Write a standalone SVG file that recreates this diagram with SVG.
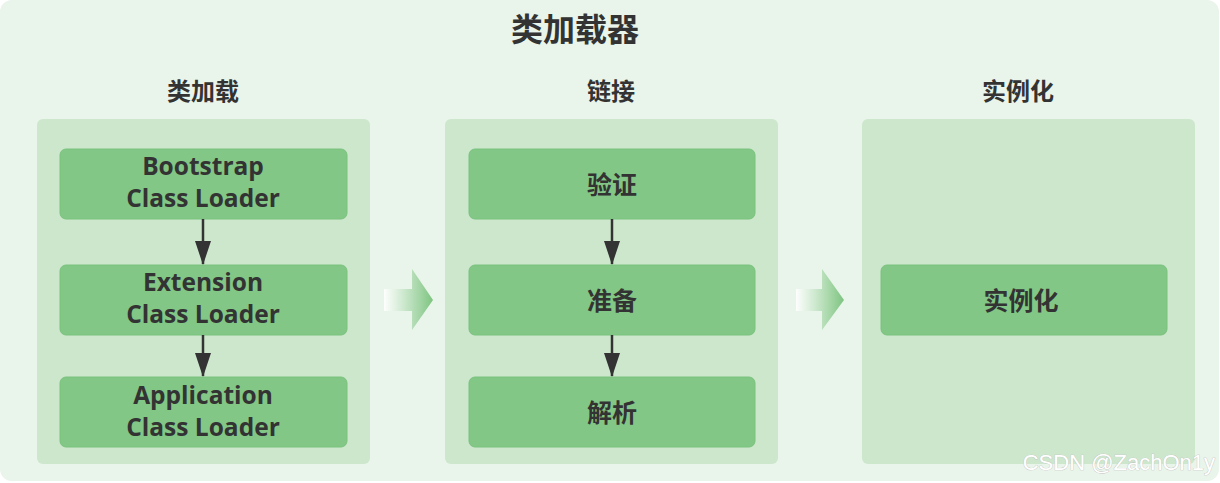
<svg xmlns="http://www.w3.org/2000/svg" width="1220" height="483" viewBox="0 0 1220 483">
<defs>
<style>
.bg{fill:#e9f4ea}
.panel{fill:#cde7cd}
.node{fill:#82c785;stroke:#7bc27e;stroke-width:1}
.t{font-family:"Open Sans","Noto Sans CJK SC",sans-serif;font-weight:bold;fill:#333;text-anchor:middle}
.en{font-size:24.5px}
.cn{font-size:25px;dominant-baseline:central}
.hd{font-size:24px;dominant-baseline:central}
.edge{stroke:#333;stroke-width:2.5;fill:none}
.wm{font-family:"Liberation Sans",Arial,sans-serif;font-size:22px;fill:#fff;stroke:#c0c0c0;stroke-width:0.7;paint-order:stroke;text-anchor:end}
</style>
<marker id="ah" viewBox="0 0 24 16" refX="23" refY="8" markerWidth="24" markerHeight="16" markerUnits="userSpaceOnUse" orient="auto">
<path d="M0,0 L24,8 L0,16 Z" fill="#333"/>
</marker>
<linearGradient id="g" x1="0" y1="0" x2="1" y2="0">
<stop offset="0" stop-color="#ffffff" stop-opacity="0.9"/>
<stop offset="1" stop-color="#7dc480"/>
</linearGradient>
</defs>
<rect class="bg" x="0" y="0" width="1219" height="481" rx="12"/>
<text class="t" x="575" y="28" style="font-size:32px;dominant-baseline:central">类加载器</text>

<g id="panel-load">
<rect class="panel" x="37" y="119" width="333" height="345" rx="6"/>
<text class="t hd" x="203" y="90">类加载</text>
</g>
<g id="panel-link">
<rect class="panel" x="445" y="119" width="333" height="345" rx="6"/>
<text class="t hd" x="611" y="90">链接</text>
</g>
<g id="panel-init">
<rect class="panel" x="862" y="119" width="333" height="345" rx="6"/>
<text class="t hd" x="1018" y="90">实例化</text>
</g>

<g id="node-bootstrap">
<rect class="node" x="60" y="149" width="287" height="70" rx="6"/>
<text class="t en" x="203" y="175">Bootstrap</text>
<text class="t en" x="203" y="207">Class Loader</text>
</g>
<g id="node-extension">
<rect class="node" x="60" y="265" width="287" height="70" rx="6"/>
<text class="t en" x="203" y="291">Extension</text>
<text class="t en" x="203" y="323">Class Loader</text>
</g>
<g id="node-application">
<rect class="node" x="60" y="377" width="287" height="70" rx="6"/>
<text class="t en" x="203" y="404">Application</text>
<text class="t en" x="203" y="436">Class Loader</text>
</g>

<g id="node-verify">
<rect class="node" x="469" y="149" width="286" height="70" rx="6"/>
<text class="t cn" x="612" y="184">验证</text>
</g>
<g id="node-prepare">
<rect class="node" x="469" y="265" width="286" height="70" rx="6"/>
<text class="t cn" x="612" y="300">准备</text>
</g>
<g id="node-resolve">
<rect class="node" x="469" y="377" width="286" height="70" rx="6"/>
<text class="t cn" x="612" y="412">解析</text>
</g>

<g id="node-instantiate">
<rect class="node" x="881" y="265" width="286" height="70" rx="6"/>
<text class="t cn" x="1021" y="300">实例化</text>
</g>

<g id="connectors">
<line class="edge" x1="203" y1="219" x2="203" y2="264" marker-end="url(#ah)"/>
<line class="edge" x1="203" y1="335" x2="203" y2="376" marker-end="url(#ah)"/>
<line class="edge" x1="612" y1="219" x2="612" y2="264" marker-end="url(#ah)"/>
<line class="edge" x1="612" y1="335" x2="612" y2="376" marker-end="url(#ah)"/>
<path d="M384,289 H412 V269 L433,300 L412,330 V311 H384 Z" fill="url(#g)"/>
<path d="M796,289 H822 V269 L844,300 L822,330 V311 H796 Z" fill="url(#g)"/>
</g>

<text class="wm" x="1215" y="470">CSDN @ZachOn1y</text>
</svg>
